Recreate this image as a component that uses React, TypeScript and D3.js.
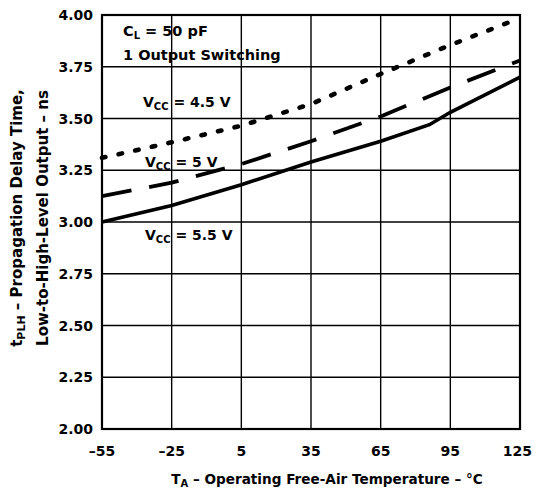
import React from 'react';
import * as d3 from 'd3';

const temps = [-55, -25, 5, 35, 65, 95, 125];
const vcc45Values = [3.31, 3.385, 3.465, 3.57, 3.715, 3.855, 3.985];
const vcc5Values = [3.125, 3.19, 3.28, 3.39, 3.51, 3.65, 3.78];
const vcc55Temps = [-55, -25, 5, 35, 65, 86, 95, 125];
const vcc55Values = [3.0, 3.08, 3.18, 3.29, 3.39, 3.47, 3.53, 3.7];
const xTicks = [-55, -25, 5, 35, 65, 95, 125];
const yTicks = [2.0, 2.25, 2.5, 2.75, 3.0, 3.25, 3.5, 3.75, 4.0];

const FONT = '"DejaVu Sans", "Liberation Sans", Arial, sans-serif';
const DASH = '\u2013';

export default function App() {
  const W = 533, H = 492;
  const x = d3.scaleLinear().domain([-55, 125]).range([102, 520]);
  const y = d3.scaleLinear().domain([2, 4]).range([429, 15]);
  const line = d3.line<[number, number]>().x(d => x(d[0])).y(d => y(d[1]));
  const p45 = line(temps.map((t, i) => [t, vcc45Values[i]] as [number, number])) || '';
  const p5 = line(temps.map((t, i) => [t, vcc5Values[i]] as [number, number])) || '';
  const p55 = line(vcc55Temps.map((t, i) => [t, vcc55Values[i]] as [number, number])) || '';
  const fmtX = (d: number) => (d < 0 ? DASH + Math.abs(d) : String(d));

  return (
    <svg width={W} height={H} style={{ position: 'absolute', left: 0, top: 0, background: '#fff' }}
      fontFamily={FONT} fontWeight="bold">
      <rect x={0} y={0} width={W} height={H} fill="#fff" />
      {xTicks.map(t => (
        <line key={'vx' + t} x1={x(t)} x2={x(t)} y1={y(2)} y2={y(4)} stroke="#000" strokeWidth={1.4} />
      ))}
      {yTicks.map(t => (
        <line key={'hy' + t} x1={x(-55)} x2={x(125)} y1={y(t)} y2={y(t)} stroke="#000" strokeWidth={1.4} />
      ))}
      <rect x={x(-55)} y={y(4)} width={x(125) - x(-55)} height={y(2) - y(4)} fill="none" stroke="#000" strokeWidth={2.2} />
      {xTicks.map((t, i) => {
        const last = i === xTicks.length - 1;
        return (
          <text key={'xl' + t} x={last ? W - 1 : x(t)} y={456} textAnchor={last ? 'end' : 'middle'} fontSize={14}>{fmtX(t)}</text>
        );
      })}
      {yTicks.map(t => (
        <text key={'yl' + t} x={93} y={y(t) + 5} textAnchor="end" fontSize={14}>{t.toFixed(2)}</text>
      ))}
      <path d={p55} fill="none" stroke="#000" strokeWidth={3.6} />
      <path d={p5} fill="none" stroke="#000" strokeWidth={3.8} strokeDasharray="30 18" />
      <path d={p45} fill="none" stroke="#000" strokeWidth={4.6} strokeDasharray="3.5 13.5" strokeLinecap="round" />

      <text x={123} y={36} fontSize={14.5}>C<tspan fontSize={10} dy={3}>L</tspan><tspan dy={-3}> = 50 pF</tspan></text>
      <text x={123} y={60} fontSize={14.5}>1 Output Switching</text>
      <text x={143} y={107} fontSize={14}>V<tspan fontSize={10} dy={3}>CC</tspan><tspan dy={-3}> = 4.5 V</tspan></text>
      <text x={145} y={167} fontSize={14}>V<tspan fontSize={10} dy={3}>CC</tspan><tspan dy={-3}> = 5 V</tspan></text>
      <text x={145} y={240} fontSize={14}>V<tspan fontSize={10} dy={3}>CC</tspan><tspan dy={-3}> = 5.5 V</tspan></text>

      <text x={327} y={484} textAnchor="middle" fontSize={13.6}>T<tspan fontSize={10} dy={3}>A</tspan><tspan dy={-3}>{' ' + DASH + ' Operating Free-Air Temperature ' + DASH + ' °C'}</tspan></text>
      <text transform="translate(22,218) rotate(-90)" textAnchor="middle" fontSize={15}>t<tspan fontSize={11} dy={3}>PLH</tspan><tspan dy={-3}>{' ' + DASH + ' Propagation Delay Time,'}</tspan></text>
      <text transform="translate(48,218) rotate(-90)" textAnchor="middle" fontSize={15}>{'Low-to-High-Level Output ' + DASH + ' ns'}</text>
    </svg>
  );
}
